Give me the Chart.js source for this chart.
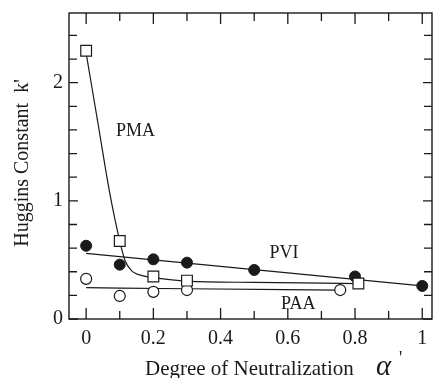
<!DOCTYPE html>
<html>
<head>
<meta charset="utf-8">
<script src="https://cdn.jsdelivr.net/npm/chart.js@4/dist/chart.umd.min.js"></script>
<style>
  html, body { margin: 0; padding: 0; background: #fff; overflow: hidden; }
  #wrap { width: 433px; height: 378px; }
</style>
</head>
<body>
<div id="wrap"><canvas id="canvasHuggins"></canvas></div>
<script>
// measured points
var alphaPMA = [0, 0.1, 0.2, 0.3, 0.81];
var kPMA = [2.27, 0.66, 0.36, 0.325, 0.30];
var alphaPVI = [0, 0.1, 0.2, 0.3, 0.5, 0.8, 1.0];
var kPVI = [0.62, 0.46, 0.505, 0.477, 0.415, 0.36, 0.28];
var alphaPAA = [0, 0.1, 0.2, 0.3, 0.756];
var kPAA = [0.34, 0.195, 0.23, 0.245, 0.245];

// fitted curves
var fitAlphaPMA = [0, 0.035, 0.07, 0.1, 0.115, 0.135, 0.17, 0.2, 0.3, 0.5, 0.81];
var fitKPMA = [2.25, 1.66, 1.07, 0.66, 0.5, 0.41, 0.365, 0.35, 0.32, 0.31, 0.30];
var fitAlphaPVI = [0, 1.0];
var fitKPVI = [0.556, 0.28];
var fitAlphaPAA = [0, 0.3, 0.75];
var fitKPAA = [0.265, 0.256, 0.245];

var xTicks = [0, 0.2, 0.4, 0.6, 0.8, 1];
var yTicks = [0, 1, 2];

var serieLabels = [
    { text: 'PMA', x: 0.147, y: 1.59 },
    { text: 'PVI', x: 0.589, y: 0.56 },
    { text: 'PAA', x: 0.631, y: 0.127 }
];

function pares(xs, ys) {
    let out = [];
    for (let i = 0; i < xs.length; i++) {
        out = [...out, { x: xs[i], y: ys[i] }];
    }
    return out;
}

var ink = '#1a1a1a';
var serif = "'Liberation Serif', 'DejaVu Serif', serif";

var marcoYTicks = {
    id: 'marcoYTicks',
    afterDraw: function (chart) {
        const ctx = chart.ctx;
        const a = chart.chartArea;
        const sx = chart.scales.x;
        const sy = chart.scales.y;
        ctx.save();
        ctx.strokeStyle = ink;
        ctx.lineWidth = 1.4;
        ctx.strokeRect(a.left, a.top, a.right - a.left, a.bottom - a.top);

        ctx.lineWidth = 1.3;
        ctx.beginPath();
        for (let i = 0; i <= 10; i++) {
            let px = sx.getPixelForValue(i / 10);
            let len = (i % 2 === 0) ? 11 : 8;
            ctx.moveTo(px, a.bottom);
            ctx.lineTo(px, a.bottom - len);
            ctx.moveTo(px, a.top);
            ctx.lineTo(px, a.top + len);
        }
        for (let j = 0; j <= 12; j++) {
            let py = sy.getPixelForValue(j / 5);
            let len = (j % 5 === 0) ? 9 : 8;
            ctx.moveTo(a.left, py);
            ctx.lineTo(a.left + len, py);
            ctx.moveTo(a.right, py);
            ctx.lineTo(a.right - len, py);
        }
        ctx.stroke();

        ctx.fillStyle = ink;
        // x tick labels
        ctx.font = '20px ' + serif;
        ctx.textAlign = 'center';
        ctx.textBaseline = 'alphabetic';
        xTicks.forEach(function (v) {
            ctx.fillText(String(v), sx.getPixelForValue(v), 344);
        });

        // series names
        ctx.font = '18px ' + serif;
        ctx.textBaseline = 'middle';
        serieLabels.forEach(function (l) {
            ctx.fillText(l.text, sx.getPixelForValue(l.x), sy.getPixelForValue(l.y));
        });

        // axis titles
        ctx.font = '21px ' + serif;
        ctx.textBaseline = 'alphabetic';
        ctx.textAlign = 'left';
        ctx.fillText('Degree of Neutralization', 145, 375);
        ctx.font = 'italic 29px ' + serif;
        ctx.fillText('\u03B1', 376, 375);
        ctx.font = '18px ' + serif;
        ctx.fillText("'", 399, 364);

        ctx.translate(28, 163);
        ctx.rotate(-Math.PI / 2);
        ctx.font = '20px ' + serif;
        ctx.textAlign = 'center';
        ctx.fillText("Huggins Constant  k'", 0, 0);
        ctx.restore();
    }
};

var ctx = document.getElementById('canvasHuggins').getContext('2d');
var chartHuggins = new Chart(ctx, {
    type: 'scatter',
    data: {
        datasets: [
            {
                label: 'PMA',
                data: pares(alphaPMA, kPMA),
                pointStyle: 'rect',
                pointRadius: 7.6,
                pointBackgroundColor: '#fff',
                pointBorderColor: ink,
                pointBorderWidth: 1.2,
                showLine: false,
                order: 0
            },
            {
                label: 'PVI',
                data: pares(alphaPVI, kPVI),
                pointStyle: 'circle',
                pointRadius: 5.5,
                pointBackgroundColor: ink,
                pointBorderColor: ink,
                pointBorderWidth: 1,
                showLine: false,
                order: 0
            },
            {
                label: 'PAA',
                data: pares(alphaPAA, kPAA),
                pointStyle: 'circle',
                pointRadius: 5.5,
                pointBackgroundColor: '#fff',
                pointBorderColor: ink,
                pointBorderWidth: 1.2,
                showLine: false,
                order: 0
            },
            {
                label: 'PMA fit',
                data: pares(fitAlphaPMA, fitKPMA),
                showLine: true,
                pointRadius: 0,
                borderColor: ink,
                borderWidth: 1.2,
                cubicInterpolationMode: 'monotone',
                order: 1
            },
            {
                label: 'PVI fit',
                data: pares(fitAlphaPVI, fitKPVI),
                showLine: true,
                pointRadius: 0,
                borderColor: ink,
                borderWidth: 1.2,
                order: 1
            },
            {
                label: 'PAA fit',
                data: pares(fitAlphaPAA, fitKPAA),
                showLine: true,
                pointRadius: 0,
                borderColor: ink,
                borderWidth: 1.2,
                cubicInterpolationMode: 'monotone',
                order: 1
            }
        ]
    },
    options: {
        responsive: true,
        maintainAspectRatio: false,
        animation: false,
        layout: { autoPadding: false, padding: { top: 13, right: 1, left: 0, bottom: 0 } },
        plugins: {
            legend: { display: false },
            tooltip: { enabled: false }
        },
        scales: {
            x: {
                type: 'linear',
                min: -0.051,
                max: 1.029,
                grid: { display: false, drawTicks: false },
                border: { display: false },
                afterFit: function (scale) { scale.height = 59; },
                ticks: { display: false }
            },
            y: {
                type: 'linear',
                min: 0,
                max: 2.59,
                grid: { display: false, drawTicks: false },
                border: { display: false },
                afterBuildTicks: function (scale) {
                    scale.ticks = yTicks.map(function (v) { return { value: v }; });
                },
                afterFit: function (scale) {
                    scale.width = 69;
                    scale.paddingTop = 0;
                    scale.paddingBottom = 0;
                },
                ticks: {
                    color: ink,
                    padding: 6,
                    font: { family: serif, size: 20 },
                    callback: function (v) { return String(v); }
                }
            }
        }
    },
    plugins: [marcoYTicks]
});
</script>
</body>
</html>
